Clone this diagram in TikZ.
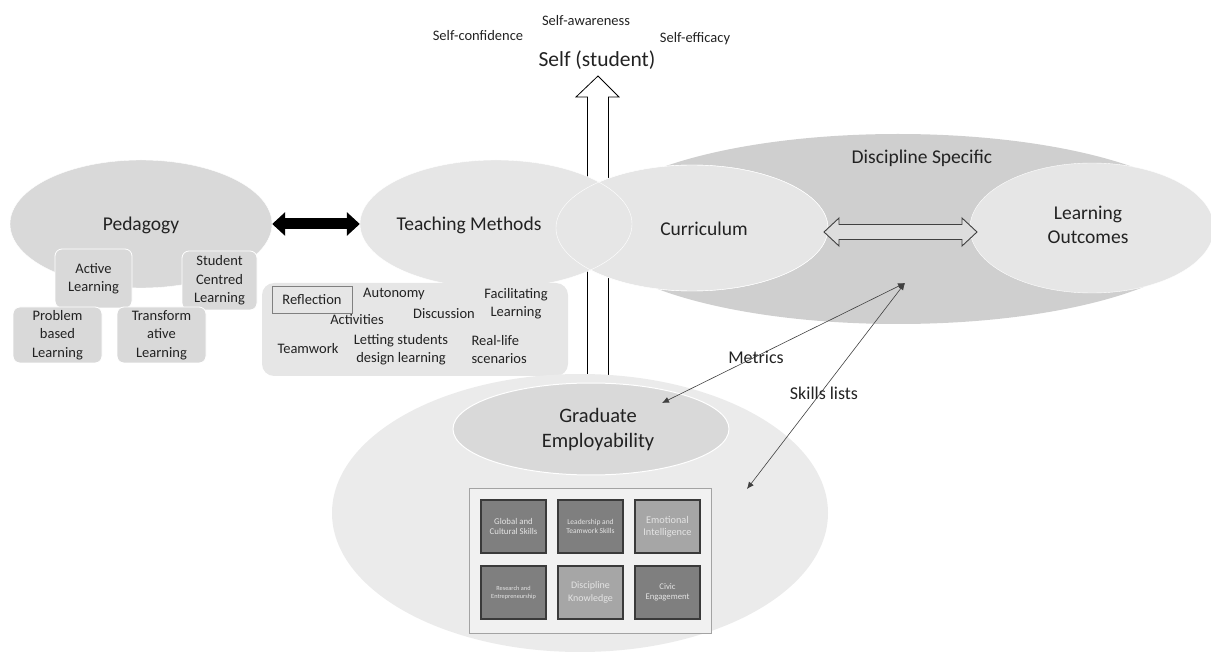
\documentclass[tikz,border=0pt]{standalone}
\usepackage{fontspec}
\setmainfont{Carlito}
\usetikzlibrary{shapes.geometric,arrows.meta}

\definecolor{inktext}{HTML}{222222}
\definecolor{pedgray}{HTML}{D9D9D9}
\definecolor{tmgray}{HTML}{E6E6E6}
\definecolor{discgray}{HTML}{CFCFCF}
\definecolor{outergray}{HTML}{EBEBEB}
\definecolor{skilldark}{HTML}{7F7F7F}
\definecolor{skilllight}{HTML}{A6A6A6}
\definecolor{skillrim}{HTML}{3A3A3A}
\definecolor{skillink}{HTML}{E4E4E4}
\definecolor{framegray}{HTML}{A3A3A3}
\definecolor{linkgray}{HTML}{404040}

\begin{document}
\begin{tikzpicture}[x=1pt,y=-1pt,
   blob/.style={ellipse,inner sep=0pt},
   big/.style={font=\fontsize{19.5}{24}\selectfont,text=inktext,align=center},
   small/.style={font=\fontsize{14.5}{18.5}\selectfont,text=inktext,align=center},
   pedbox/.style={draw=white,line width=0.8pt,fill=pedgray,rounded corners=7pt,inner sep=0pt,small},
   skillbox/.style={draw=skillrim,line width=1.3pt,minimum width=65pt,minimum height=53pt,inner sep=1pt,align=center,text=skillink},
   hollow/.style={draw=black,fill=white,line width=0.8pt},
   link/.style={draw=linkgray,line width=0.6pt,{Latex[length=7pt,width=6pt]}-{Latex[length=7pt,width=6pt]}}]
   \useasboundingbox (0,0) rectangle (1211,652);

   % self on top
   \node[font=\fontsize{21.5}{26}\selectfont,text=inktext] (self) at (597,60) {Self (student)};
   \node[small] (aware) at (586,21) {Self-awareness};
   \node[small] (confid) at (478,36) {Self-confidence};
   \node[small] (effic) at (695,39) {Self-efficacy};
   \coordinate (upfoot) at (598,383);
   \draw[hollow,shift={(upfoot)}] (-10.5,0) -- (-10.5,-286) -- (-22,-286) -- (0,-307) -- (21,-286) -- (10.5,-286) -- (10.5,0) -- cycle;

   % discipline side
   \node[blob,fill=discgray,minimum width=620pt,minimum height=190pt] (disc) at (898,229) {};
   \node[blob,fill=tmgray,draw=white,minimum width=272pt,minimum height=126pt] (curr) at (692,228) {};
   \node[blob,fill=tmgray,draw=white,minimum width=272pt,minimum height=128pt] (tm) at (496,224) {};
   \draw[white] (curr.center) ellipse [x radius=136, y radius=63];
   \node[blob,fill=tmgray,draw=white,minimum width=244pt,minimum height=130pt] (lo) at (1092,228) {};
   \node[big] (disctext) at (922,158) {Discipline Specific};
   \node[big] (currtext) at (704,229) {Curriculum};
   \node[big] (tmtext) at (469,225) {Teaching Methods};
   \node[big] (lotext) at (1088,225) {Learning\\Outcomes};
   \coordinate (dblfoot) at (824,232);
   \draw[draw=linkgray,fill=tmgray!60!discgray,line width=0.9pt,shift={(dblfoot)}] (0,0) -- (15,-14) -- (15,-7.5) -- (138,-7.5) -- (138,-14) -- (153,0) -- (138,14) -- (138,7.5) -- (15,7.5) -- (15,14) -- cycle;

   % pedagogy
   \node[blob,fill=pedgray,draw=white,minimum width=262pt,minimum height=128pt] (ped) at (141,224) {};
   \node[big] (pedtext) at (141,225) {Pedagogy};
   \node[pedbox,minimum width=77pt,minimum height=59pt] (active) at (93.5,278.5) {Active\\Learning};
   \node[pedbox,minimum width=75pt,minimum height=59pt] (centred) at (219.5,280.5) {Student\\Centred\\Learning};
   \node[pedbox,minimum width=89pt,minimum height=56pt] (problem) at (57.5,335) {Problem\\based\\Learning};
   \node[pedbox,minimum width=89pt,minimum height=56pt] (transf) at (161.5,335) {Transform\\ative\\Learning};
   \draw[black,line width=11pt,{Triangle[length=13pt,width=23pt]}-{Triangle[length=13pt,width=23pt]}] (ped.east) -- (tm.west);

   % teaching methods box
   \node[fill=tmgray,rounded corners=12pt,minimum width=306pt,minimum height=93pt] (tmbox) at (415,329.5) {};
   \node[small,draw=gray,line width=0.9pt,minimum width=80pt,minimum height=27pt,inner sep=0pt] (reflect) at (312,299.5) {Reflection};
   \node[small] (autonomy) at (394,294) {Autonomy};
   \node[small] (facil) at (516,303.5) {Facilitating\\Learning};
   \node[small] (activ) at (357,320) {Activities};
   \node[small] (discuss) at (444,314) {Discussion};
   \node[small] (teamwork) at (308,349) {Teamwork};
   \node[small] (letting) at (401,349.5) {Letting students\\design learning};
   \node[small,align=left,anchor=west] (reallife) at (468,349.5) {Real-life\\scenarios};

   % graduate employability
   \node[blob,fill=outergray,minimum width=496pt,minimum height=278pt] (geouter) at (580,513) {};
   \node[blob,fill=pedgray,draw=white,line width=1pt,minimum width=276pt,minimum height=92pt] (ge) at (591,429) {};
   \node[font=\fontsize{20.5}{25}\selectfont,text=inktext,align=center] (getext) at (598,430) {Graduate\\Employability};
   \node[draw=framegray,fill=outergray!70!white,line width=1pt,minimum width=242pt,minimum height=145pt] (frame) at (590,560.5) {};
   \node[skillbox,fill=skilldark,font=\fontsize{8.8}{10.7}\selectfont] (global) at (513.5,526.5) {Global and\\Cultural Skills};
   \node[skillbox,fill=skilldark,font=\fontsize{7.5}{9.5}\selectfont] (leader) at (590.5,526.5) {Leadership and\\Teamwork Skills};
   \node[skillbox,fill=skilllight,font=\fontsize{10.3}{12.3}\selectfont] (emotion) at (667.5,526.5) {Emotional\\Intelligence};
   \node[skillbox,fill=skilldark,font=\fontsize{6.3}{8}\selectfont] (research) at (513.5,592.5) {Research and\\Entrepreneurship};
   \node[skillbox,fill=skilllight,font=\fontsize{10}{12.3}\selectfont] (knowl) at (590.5,592.5) {Discipline\\Knowledge};
   \node[skillbox,fill=skilldark,font=\fontsize{8.7}{10.5}\selectfont] (civic) at (667.5,592.5) {Civic\\Engagement};

   % links
   \coordinate (hub) at (905,283);
   \coordinate (metricend) at (662,403);
   \coordinate (skillend) at (747,489);
   \draw[link] (hub) -- (metricend);
   \draw[link] (hub) -- (skillend);
   \node[font=\fontsize{18}{22}\selectfont,text=inktext] (metrics) at (756,357) {Metrics};
   \node[font=\fontsize{18}{22}\selectfont,text=inktext] (skills) at (824,393) {Skills lists};
\end{tikzpicture}
\end{document}
